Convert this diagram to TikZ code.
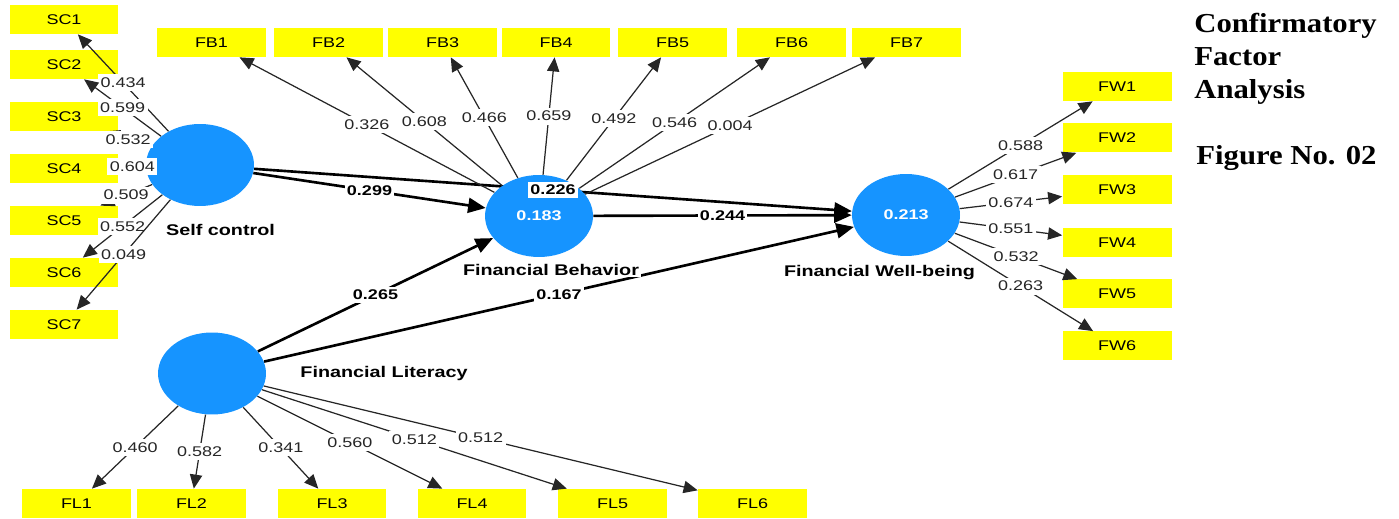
\documentclass[tikz,border=0pt]{standalone}
\usepackage{fontspec}
\usepackage{xcolor}
\usepackage{tikz}
\usetikzlibrary{arrows.meta,shapes.geometric,backgrounds}
\newfontfamily\plsfont{Liberation Sans}[FakeStretch=1.28]
\newfontfamily\titlefont{Liberation Serif}[FakeStretch=1.12]
\definecolor{latentblue}{RGB}{22,148,255}
\definecolor{itemyellow}{RGB}{255,255,0}
\tikzset{
  item/.style={fill=itemyellow, minimum width=2.18cm, minimum height=0.58cm, inner sep=0pt, font=\plsfont\fontsize{8}{9}\selectfont},
  latent/.style={ellipse, fill=latentblue, minimum width=2.16cm, minimum height=1.64cm, inner sep=0pt, text=white, font=\plsfont\bfseries\fontsize{8}{9}\selectfont},
  latname/.style={fill=white, inner sep=1pt, font=\plsfont\bfseries\fontsize{8.8}{10}\selectfont},
  loading/.style={-{Triangle[length=8pt, width=7pt]}, line width=0.7pt, black!85},
  structural/.style={-{Triangle[length=10pt, width=8.5pt]}, line width=1.5pt},
  loadlbl/.style={fill=white, inner xsep=1.4pt, inner ysep=2pt, text=black!85, font=\plsfont\fontsize{8}{9}\selectfont},
  coef/.style={fill=white, inner xsep=1.4pt, inner ysep=1.6pt, font=\plsfont\bfseries\fontsize{8}{9}\selectfont},
  heading/.style={inner sep=0pt, align=left, font=\titlefont\bfseries\fontsize{15.6}{18.7}\selectfont}
}
\begin{document}
\begin{tikzpicture}[x=0.02cm, y=-0.02cm]
  \useasboundingbox (0,0) rectangle (1399,519);

  % latent variables
  \node[latent] (sc) at (200,165) {};
  \node[latent] (fb) at (539,216) {0.183};
  \node[latent] (fw) at (906,215) {0.213};
  \node[latent] (fl) at (212,373.5) {};

  % indicators
  \node[item] (sc1) at (64,19.5) {SC1};
  \node[item] (sc2) at (64,64.5) {SC2};
  \node[item] (sc3) at (64,116.5) {SC3};
  \node[item] (sc4) at (64,168.5) {SC4};
  \node[item] (sc5) at (64,220.5) {SC5};
  \node[item] (sc6) at (64,272.5) {SC6};
  \node[item] (sc7) at (64,324.5) {SC7};

  \node[item] (fb1) at (211.5,42.5) {FB1};
  \node[item] (fb2) at (328.5,42.5) {FB2};
  \node[item] (fb3) at (442.5,42.5) {FB3};
  \node[item] (fb4) at (556,42.5) {FB4};
  \node[item] (fb5) at (672.5,42.5) {FB5};
  \node[item] (fb6) at (791.5,42.5) {FB6};
  \node[item] (fb7) at (906.5,42.5) {FB7};

  \node[item] (fw1) at (1117,86.5) {FW1};
  \node[item] (fw2) at (1117,138) {FW2};
  \node[item] (fw3) at (1117,190) {FW3};
  \node[item] (fw4) at (1117,242.5) {FW4};
  \node[item] (fw5) at (1117,294) {FW5};
  \node[item] (fw6) at (1117,346) {FW6};

  \node[item] (fl1) at (76.5,503.5) {FL1};
  \node[item] (fl2) at (191.5,503.5) {FL2};
  \node[item] (fl3) at (332,503.5) {FL3};
  \node[item] (fl4) at (472,503.5) {FL4};
  \node[item] (fl5) at (612.5,503.5) {FL5};
  \node[item] (fl6) at (752.5,503.5) {FL6};

  % outer loadings
  \draw[loading] (sc) -- node[loadlbl] {0.434} (sc1);
  \draw[loading] (sc) -- node[loadlbl] {0.599} (sc2);
  \draw[loading] (sc) -- node[loadlbl] {0.532} (sc3);
  \draw[loading] (sc) -- node[loadlbl] {0.604} (sc4);
  \draw[loading] (sc) -- node[loadlbl] {0.509} (sc5);
  \draw[loading] (sc) -- node[loadlbl] {0.552} (sc6);
  \draw[loading] (sc) -- node[loadlbl] {0.049} (sc7);

  \draw[loading] (fb) -- node[loadlbl] {0.326} (fb1);
  \draw[loading] (fb) -- node[loadlbl] {0.608} (fb2);
  \draw[loading] (fb) -- node[loadlbl] {0.466} (fb3);
  \draw[loading] (fb) -- node[loadlbl] {0.659} (fb4);
  \draw[loading] (fb) -- node[loadlbl] {0.492} (fb5);
  \draw[loading] (fb) -- node[loadlbl] {0.546} (fb6);
  \draw[loading] (fb) -- node[loadlbl] {0.004} (fb7);

  \draw[loading] (fw) -- node[loadlbl] {0.588} (fw1);
  \draw[loading] (fw) -- node[loadlbl] {0.617} (fw2);
  \draw[loading] (fw) -- node[loadlbl] {0.674} (fw3);
  \draw[loading] (fw) -- node[loadlbl] {0.551} (fw4);
  \draw[loading] (fw) -- node[loadlbl] {0.532} (fw5);
  \draw[loading] (fw) -- node[loadlbl] {0.263} (fw6);

  \draw[loading] (fl) -- node[loadlbl] {0.460} (fl1);
  \draw[loading] (fl) -- node[loadlbl] {0.582} (fl2);
  \draw[loading] (fl) -- node[loadlbl] {0.341} (fl3);
  \draw[loading] (fl) -- node[loadlbl] {0.560} (fl4);
  \draw[loading] (fl) -- node[loadlbl] {0.512} (fl5);
  \draw[loading] (fl) -- node[loadlbl] {0.512} (fl6);

  % structural paths
  \begin{scope}[on background layer]
    \draw[structural] (sc) -- (fw);
  \end{scope}
  \path (sc) -- node[coef] {0.226} (fw);
  \draw[structural] (sc) -- node[coef] {0.299} (fb);
  \draw[structural] (fb) -- node[coef] {0.244} (fw);
  \draw[structural] (fl) -- node[coef] {0.265} (fb);
  \draw[structural] (fl) -- node[coef] {0.167} (fw);

  % construct names
  \node[latname] (scname) at (220.5,230) {Self control};
  \node[latname] (fbname) at (551,270) {Financial Behavior};
  \node[latname] (fwname) at (879.5,273) {Financial Well-being};
  \node[latname] (flname) at (384,374) {Financial Literacy};

  % caption
  \node[heading, anchor=north west] (title) at (1194,13) {Confirmatory\\Factor\\Analysis};
  \node[heading, anchor=base west] (figno) at (1196,165) {Figure No. 02};
\end{tikzpicture}
\end{document}
